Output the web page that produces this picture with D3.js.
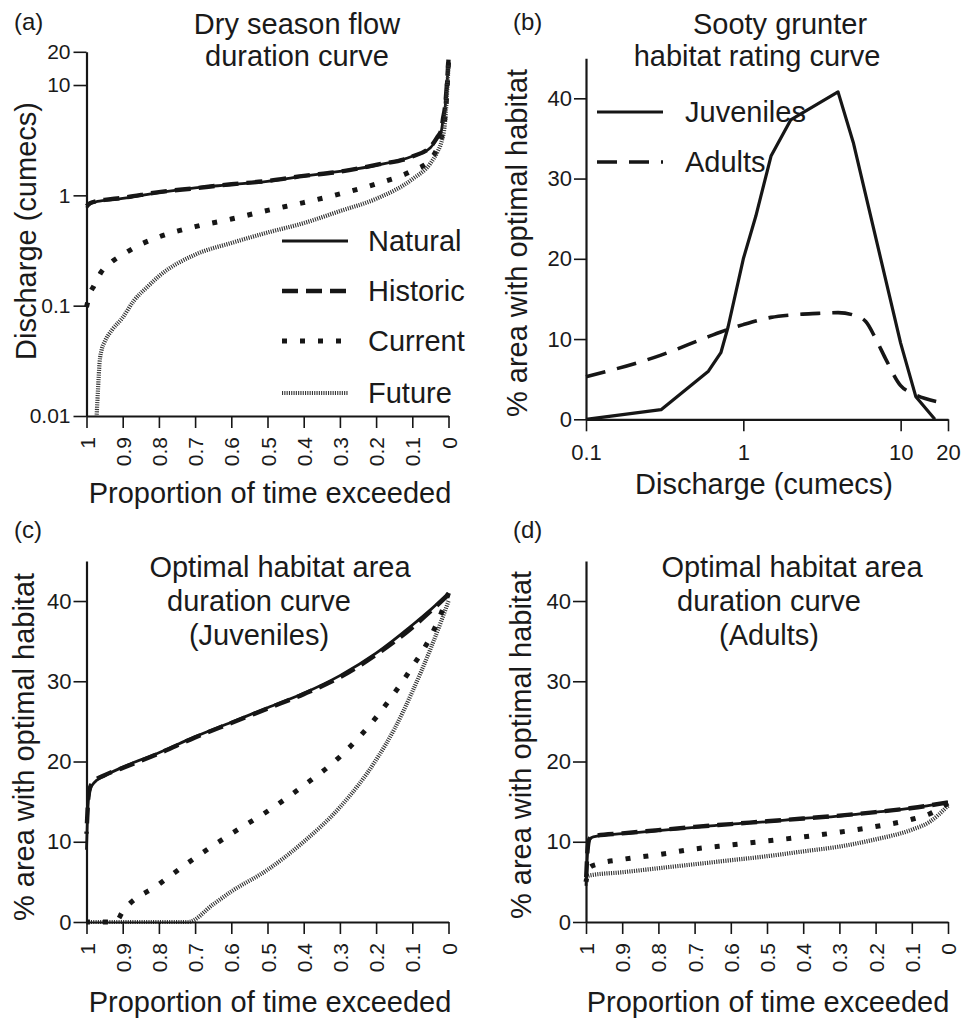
<!DOCTYPE html>
<html><head><meta charset="utf-8">
<script src="https://cdn.jsdelivr.net/npm/d3@7"></script>
<style>
body{margin:0;background:#fff}
text{font-family:"Liberation Sans",Arial,sans-serif;fill:#1a1a1a}
</style>
</head><body><script>
// ---------- DATA ----------
// Panel (a): dry season flow duration curve (proportion of time exceeded -> discharge, cumecs)
const aNaturalP  = [1,0.99,0.97,0.95,0.9,0.8,0.7,0.6,0.5,0.4,0.3,0.2,0.1,0.05,0.03,0.02,0.015,0.01,0.005,0];
const aNaturalQ  = [0.77,0.84,0.88,0.9,0.94,1.06,1.17,1.25,1.34,1.49,1.65,1.87,2.26,2.7,3.35,3.8,4.9,6.0,9.2,16.6];
const aHistoricP = [1,0.99,0.97,0.95,0.9,0.8,0.7,0.6,0.5,0.4,0.3,0.2,0.1,0.05,0.03,0.02,0.015,0.01,0.005,0];
const aHistoricQ = [0.8,0.85,0.89,0.91,0.95,1.07,1.16,1.26,1.35,1.5,1.64,1.89,2.25,2.75,3.4,3.9,5.0,6.2,9.5,17];
const aCurrentP  = [1,0.99,0.98,0.96,0.93,0.9,0.85,0.8,0.7,0.6,0.5,0.4,0.3,0.2,0.1,0.05,0.03,0.02,0.01,0.005,0];
const aCurrentQ  = [0.097,0.13,0.15,0.2,0.25,0.29,0.36,0.42,0.52,0.61,0.73,0.86,1.03,1.27,1.67,2.1,2.7,3.3,5,8,16];
const aFutureP   = [0.972,0.968,0.964,0.958,0.95,0.93,0.9,0.87,0.83,0.8,0.7,0.6,0.5,0.4,0.3,0.2,0.1,0.05,0.03,0.02,0.01,0.005,0];
const aFutureQ   = [0.01,0.018,0.03,0.04,0.047,0.06,0.078,0.11,0.15,0.185,0.29,0.37,0.46,0.56,0.72,0.93,1.4,1.95,2.5,3.0,4.5,7.5,15];

// Panel (b): habitat rating curve (discharge -> % area with optimal habitat)
const bJuvQ   = [0.1,0.3,0.6,0.72,0.8,1.0,1.2,1.5,2.0,4.0,5.0,10,12.5,16.5];
const bJuvA   = [0,1.2,6,8.3,11.5,20,25.3,32.8,37.3,40.8,34.5,9.5,2.8,0];
const bAdultQ = [0.1,0.3,0.6,0.8,1,1.5,2,3,4,5,6,7,8,10,12,17];
const bAdultA = [5.3,8,10.3,11.2,11.8,12.7,13,13.2,13.3,13,12.2,9.9,7.6,4.2,3.2,2.2];

// Panel (c): juveniles habitat duration curve
const cNaturalP  = [1,0.998,0.995,0.99,0.98,0.95,0.9,0.8,0.7,0.6,0.5,0.4,0.3,0.2,0.1,0.05,0];
const cNaturalA  = [9,12,15,16.5,17.3,18.2,19.3,21.1,23.1,24.9,26.7,28.5,30.7,33.5,37,38.9,41];
const cHistoricP = [1,0.998,0.995,0.99,0.98,0.95,0.9,0.8,0.7,0.6,0.5,0.4,0.3,0.2,0.1,0.05,0];
const cHistoricA = [11,13,15.5,16.8,17.5,18.3,19.2,21.0,23.0,24.8,26.6,28.4,30.5,33.3,36.7,38.7,40.8];
const cCurrentP  = [1,0.92,0.9,0.8,0.7,0.6,0.5,0.4,0.3,0.2,0.15,0.1,0.05,0.02,0];
const cCurrentA  = [0,0,1.3,4.7,8,11,13.8,17,20.6,25.5,28.5,31.8,35.5,38.5,41];
const cFutureP   = [1,0.72,0.65,0.6,0.5,0.4,0.3,0.2,0.15,0.1,0.05,0.02,0];
const cFutureA   = [0,0,2.2,3.8,6.5,10,14.3,20.2,24,28.7,34,37.5,40];

// Panel (d): adults habitat duration curve
const dNaturalP  = [1,0.995,0.99,0.98,0.9,0.8,0.7,0.6,0.5,0.4,0.3,0.2,0.1,0];
const dNaturalA  = [4.5,9,10.3,10.6,11,11.4,11.8,12.2,12.5,12.9,13.2,13.7,14.2,14.9];
const dHistoricP = [1,0.995,0.99,0.98,0.9,0.8,0.7,0.6,0.5,0.4,0.3,0.2,0.1,0];
const dHistoricA = [5,9.3,10.4,10.7,11.05,11.45,11.85,12.2,12.55,12.9,13.25,13.7,14.2,14.9];
const dCurrentP  = [1,0.99,0.97,0.9,0.8,0.7,0.6,0.5,0.4,0.3,0.2,0.1,0.05,0];
const dCurrentA  = [5,6.8,7.2,7.8,8.4,9.1,9.6,10.1,10.6,11.2,11.9,12.8,13.5,14.8];
const dFutureP   = [1,0.99,0.9,0.8,0.7,0.6,0.5,0.4,0.3,0.2,0.1,0.05,0];
const dFutureA   = [5.5,5.8,6.2,6.7,7.2,7.7,8.2,8.8,9.4,10.3,11.5,12.5,14.5];

// Ticks and labels
const propTicks   = [1,0.9,0.8,0.7,0.6,0.5,0.4,0.3,0.2,0.1,0];
const propLabels  = ["1","0.9","0.8","0.7","0.6","0.5","0.4","0.3","0.2","0.1","0"];
const qLogTicks   = [0.01,0.1,1,10,20];
const qLogLabels  = ["0.01","0.1","1","10","20"];
const bXTicks     = [0.1,1,10,20];
const bXLabels    = ["0.1","1","10","20"];
const habTicks    = [0,10,20,30,40];
const flowSeries  = ["Natural","Historic","Current","Future"];
const habSeries   = ["Juveniles","Adults"];

// ---------- DRAWING ----------
const svg = d3.select("body").append("svg").attr("width",961).attr("height",1020);
const INK = "#161616";
const FONT = '"Liberation Sans", Arial, sans-serif';

const styles = {
  Natural:  {w:2.8, dash:null,       color:INK},
  Historic: {w:4.4, dash:"16,8",     color:INK},
  Current:  {w:5,   dash:"5,13",     color:INK},
  Future:   {w:4.2, dash:"1.1,1.2",  color:"#333"},
  Juveniles:{w:3.2, dash:null,       color:INK},
  Adults:   {w:3.6, dash:"20,12",    color:INK}
};

function zip(a,b){ return a.map((v,i)=>[v,b[i]]); }

function drawLine(xs, ys, px, py, style, curve){
  const data = zip(px, py).sort((m,n)=>m[0]-n[0]);
  const line = d3.line().x(d=>xs(d[0])).y(d=>ys(d[1])).curve(curve || d3.curveMonotoneX);
  svg.append("path").datum(data).attr("d",line)
    .attr("fill","none").attr("stroke",style.color).attr("stroke-width",style.w)
    .attr("stroke-dasharray",style.dash).attr("stroke-linejoin","round");
}

function styleAxis(g, fs){
  g.attr("font-family",FONT).attr("font-size",fs);
  g.select(".domain").attr("stroke",INK).attr("stroke-width",2.2);
  g.selectAll(".tick line").attr("stroke",INK).attr("stroke-width",1.6);
  g.selectAll(".tick text").attr("fill","#1a1a1a");
}

function propAxis(x, yPix){
  const g = svg.append("g").attr("transform",`translate(0,${yPix})`)
    .call(d3.axisBottom(x).tickValues(propTicks).tickSize(12).tickSizeOuter(0)
      .tickFormat((d,i)=>propLabels[i]));
  styleAxis(g, 21);
  g.selectAll(".tick text").attr("transform","rotate(-90)").attr("text-anchor","end")
    .attr("x",-21).attr("y",0).attr("dy","0.36em");
  return g;
}

function yAxis(y, xPix, ticks, labels, size, pad, fs){
  const g = svg.append("g").attr("transform",`translate(${xPix},0)`)
    .call(d3.axisLeft(y).tickValues(ticks).tickSize(size).tickPadding(pad).tickSizeOuter(0)
      .tickFormat((d,i)=>labels ? labels[i] : d));
  styleAxis(g, fs || 21);
  return g;
}

function txt(x, y, s, size, anchor, rot){
  const t = svg.append("text").attr("x",x).attr("y",y).text(s)
    .attr("font-size",size).attr("text-anchor",anchor||"middle").attr("font-family",FONT);
  if (rot) t.attr("transform",`rotate(${rot},${x},${y})`);
  return t;
}

function legendRow(x0, x1, y, tx, name){
  const s = styles[name];
  svg.append("line").attr("x1",x0).attr("x2",x1).attr("y1",y).attr("y2",y)
    .attr("stroke",s.color).attr("stroke-width",s.w).attr("stroke-dasharray",s.dash);
  txt(tx, y+10, name, 29, "start");
}

// ===== Panel (a) =====
{
  const x = d3.scaleLinear().domain([1,0]).range([86.5,448.5]);
  const y = d3.scaleLog().domain([0.01,20]).range([416,51.8]);
  drawLine(x,y,aNaturalP,aNaturalQ,styles.Natural);
  drawLine(x,y,aHistoricP,aHistoricQ,styles.Historic);
  drawLine(x,y,aCurrentP,aCurrentQ,styles.Current);
  drawLine(x,y,aFutureP,aFutureQ,styles.Future);
  yAxis(y, 86.5, qLogTicks, qLogLabels, 13, 3, 21);
  propAxis(x, 416);
  txt(14,30,"(a)",24,"start");
  txt(297,34,"Dry season flow",29);
  txt(297,66,"duration curve",29);
  txt(36,231,"Discharge (cumecs)",29,"middle",-90);
  txt(270,503,"Proportion of time exceeded",29);
  const rows=[241,291,341,393];
  flowSeries.forEach((n,i)=>legendRow(282,348,rows[i],368,n));
}

// ===== Panel (b) =====
{
  const x = d3.scaleLog().domain([0.1,20]).range([586,948]);
  const y = d3.scaleLinear().domain([0,45]).range([419.3,58.2]);
  drawLine(x,y,bAdultQ,bAdultA,styles.Adults,d3.curveMonotoneX);
  drawLine(x,y,bJuvQ,bJuvA,styles.Juveniles,d3.curveLinear);
  yAxis(y, 586, habTicks, null, 12, 2, 22);
  const gx = svg.append("g").attr("transform","translate(0,419.3)")
    .call(d3.axisBottom(x).tickValues(bXTicks).tickSize(12).tickSizeOuter(0)
      .tickFormat((d,i)=>bXLabels[i]));
  styleAxis(gx, 22);
  gx.selectAll(".tick text").attr("y",25);
  txt(513,30,"(b)",24,"start");
  txt(780,34,"Sooty grunter",29);
  txt(757,66,"habitat rating curve",29);
  txt(527,243,"% area with optimal habitat",29,"middle",-90);
  txt(764,494,"Discharge (cumecs)",29);
  legendRow(597,663,112,685,"Juveniles");
  legendRow(597,663,162,685,"Adults");
}

// ===== Panel (c) =====
{
  const x = d3.scaleLinear().domain([1,0]).range([86.5,448.5]);
  const y = d3.scaleLinear().domain([0,45]).range([922,560.9]);
  drawLine(x,y,cFutureP,cFutureA,styles.Future);
  drawLine(x,y,cCurrentP,cCurrentA,styles.Current);
  drawLine(x,y,cNaturalP,cNaturalA,styles.Natural);
  drawLine(x,y,cHistoricP,cHistoricA,styles.Historic);
  yAxis(y, 86.5, habTicks, null, 13, 2, 22);
  propAxis(x, 922);
  txt(14,538,"(c)",24,"start");
  txt(280,577,"Optimal habitat area",29);
  txt(259,611,"duration curve",29);
  txt(259,645,"(Juveniles)",29);
  txt(34,747,"% area with optimal habitat",29,"middle",-90);
  txt(270,1012,"Proportion of time exceeded",29);
}

// ===== Panel (d) =====
{
  const x = d3.scaleLinear().domain([1,0]).range([586,948]);
  const y = d3.scaleLinear().domain([0,45]).range([922,560.9]);
  drawLine(x,y,dFutureP,dFutureA,styles.Future);
  drawLine(x,y,dCurrentP,dCurrentA,styles.Current);
  drawLine(x,y,dNaturalP,dNaturalA,styles.Natural);
  drawLine(x,y,dHistoricP,dHistoricA,styles.Historic);
  yAxis(y, 586, habTicks, null, 13, 2, 22);
  propAxis(x, 922);
  txt(513,538,"(d)",24,"start");
  txt(792,577,"Optimal habitat area",29);
  txt(769,611,"duration curve",29);
  txt(769,645,"(Adults)",29);
  txt(531,745,"% area with optimal habitat",29,"middle",-90);
  txt(768,1012,"Proportion of time exceeded",29);
}
</script></body></html>
